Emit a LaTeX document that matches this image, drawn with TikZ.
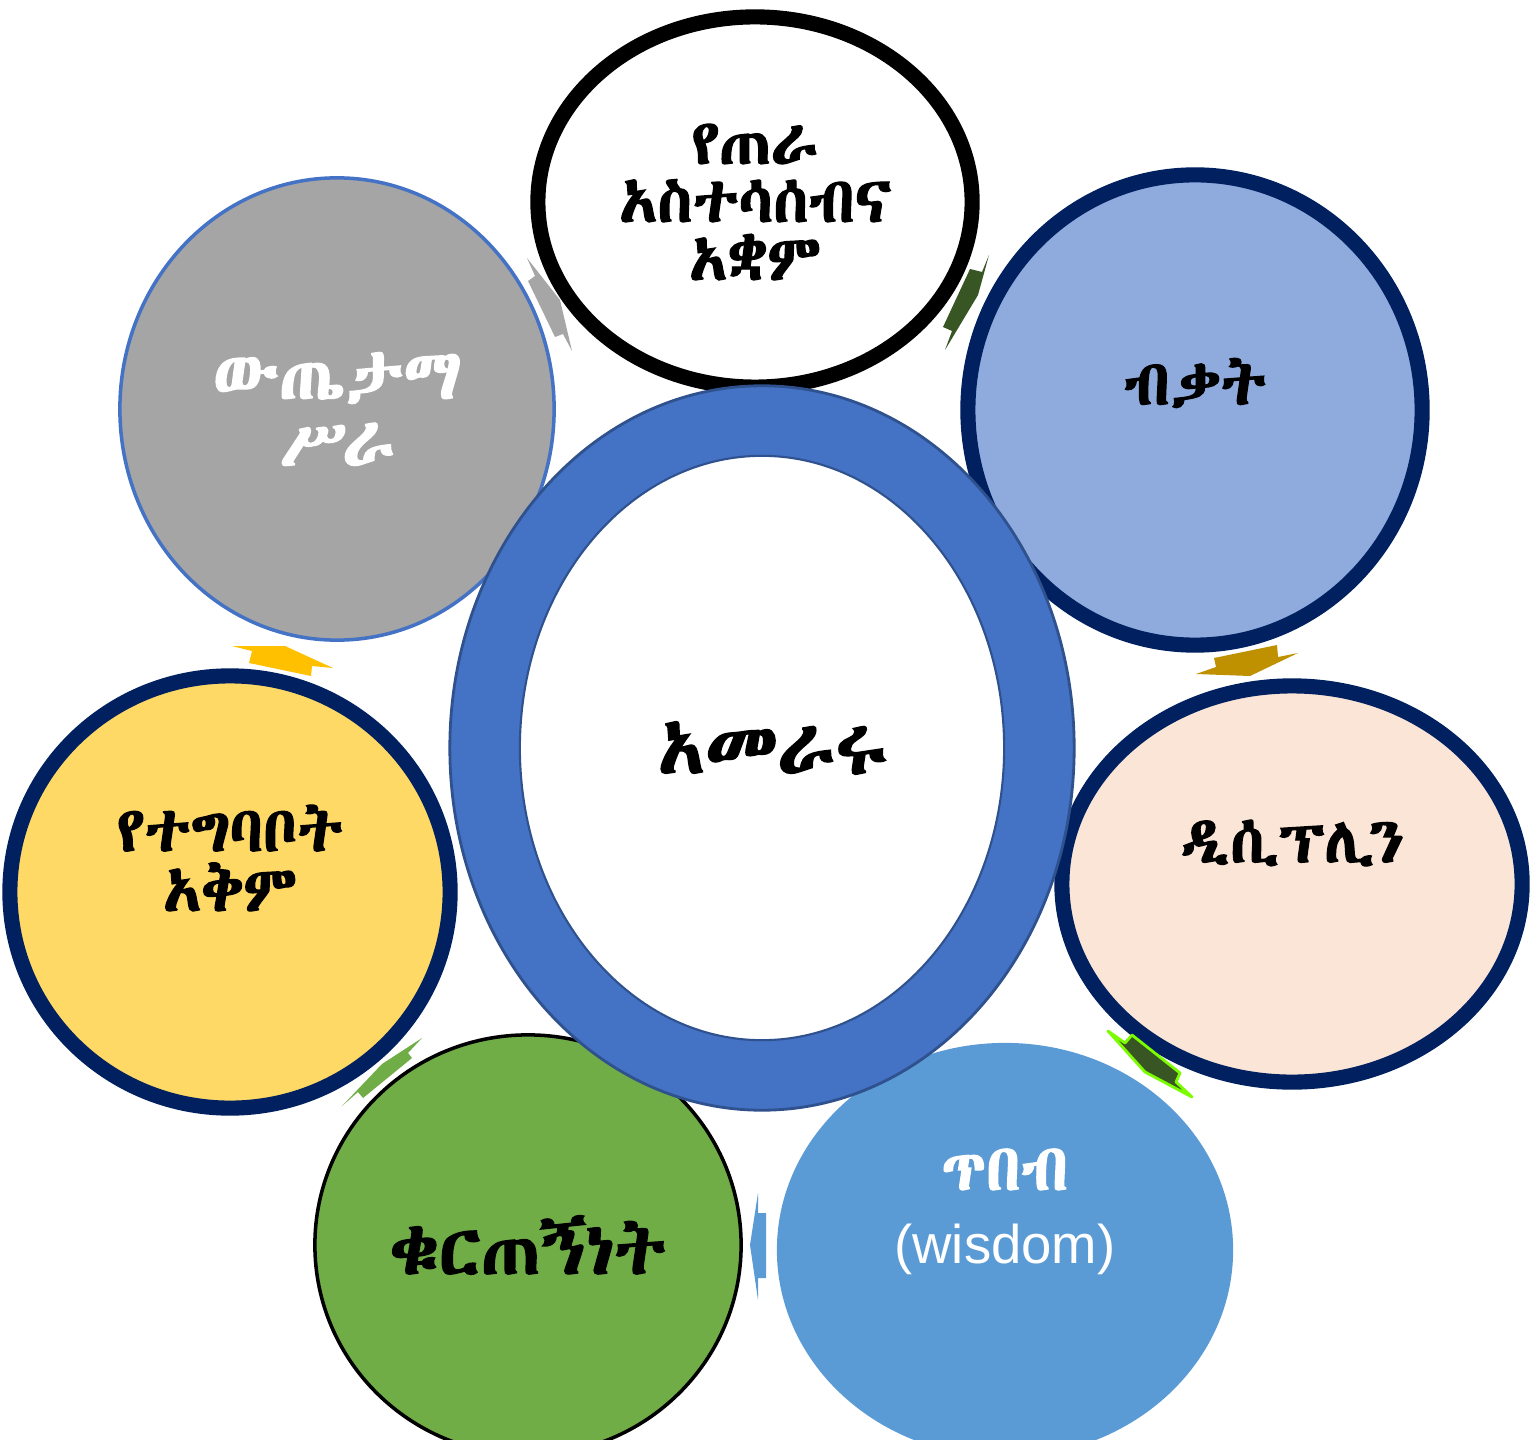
\documentclass[tikz,border=0pt]{standalone}
\usepackage{fontspec}
\usepackage{tikz}
\usepackage{xcolor}
\usetikzlibrary{shapes.geometric, calc, positioning}

\IfFontExistsTF{Abyssinica SIL}{\newfontfamily\ethfont[Script=Ethiopic,FakeBold=2]{Abyssinica SIL}}{%
  \IfFontExistsTF{Noto Sans Ethiopic}{\newfontfamily\ethfont[Script=Ethiopic]{Noto Sans Ethiopic}}{%
    \newfontfamily\ethfont[Script=Ethiopic]{FreeSerif}}}
\newfontfamily\latinfont{Liberation Sans}

\definecolor{navy}{HTML}{002060}
\definecolor{ringblue}{HTML}{4472C4}
\definecolor{ringedge}{HTML}{2F528F}
\definecolor{paleblue}{HTML}{8FAADC}
\definecolor{peach}{HTML}{FBE5D6}
\definecolor{skyblue}{HTML}{5B9BD5}
\definecolor{leaf}{HTML}{70AD47}
\definecolor{butter}{HTML}{FFD966}
\definecolor{stone}{HTML}{A5A5A5}
\definecolor{darkleaf}{HTML}{375623}
\definecolor{ochre}{HTML}{BF9000}
\definecolor{amber}{HTML}{FFC000}
\definecolor{lime}{HTML}{7CFC00}
\definecolor{silver}{HTML}{A6A6A6}

\begin{document}
\begin{tikzpicture}[
    x=0.01cm, y=-0.01cm,
    bubble/.style={ellipse, inner sep=0pt},
    thickrim/.style={draw=navy, line width=4.3pt},
    txt/.style={align=center, font=\ethfont\fontsize{18}{16.5}\selectfont},
    bigtxt/.style={align=center, font=\ethfont\fontsize{20.5}{19}\selectfont},
    arrowshape/.style={fill=#1, draw=none}
]
\useasboundingbox (0,0) rectangle (1537,1440);
\clip (0,0) rectangle (1537,1440);

% Outer ring of circles
\node[bubble, fill=white, draw=black, line width=4.3pt, minimum width=4.34cm, minimum height=3.70cm] (view) at (755,202) {};
\node[bubble, fill=paleblue, thickrim, minimum width=4.54cm, minimum height=4.70cm] (skill) at (1195,410) {};
\node[bubble, fill=peach, thickrim, minimum width=4.60cm, minimum height=3.96cm] (disc) at (1292,884) {};
\node[bubble, fill=skyblue, minimum width=4.56cm, minimum height=4.14cm] (wisdom) at (1005,1250) {};
\node[bubble, fill=leaf, draw=black, line width=1pt, minimum width=4.26cm, minimum height=4.20cm] (commit) at (528,1245) {};
\node[bubble, fill=butter, thickrim, minimum width=4.40cm, minimum height=4.32cm] (comm) at (230,892) {};
\node[bubble, fill=stone, draw=ringblue, line width=1pt, minimum width=4.34cm, minimum height=4.62cm] (result) at (337,409) {};

% Arrows between the circles
\fill[arrowshape=silver] (527,258) -- (535,276) -- (528,281) -- (555,337) -- (563,334) -- (572,351) -- (560,300) -- cycle;
\fill[arrowshape=darkleaf] (989,255) -- (982,272) -- (970,269) -- (943,327) -- (952,331) -- (945,350) -- (978,295) -- cycle;
\fill[arrowshape=ochre] (1277,645) -- (1278,657) -- (1298,653) -- (1250,676) -- (1196,674) -- (1216,667) -- (1214,658) -- cycle;
\filldraw[fill=darkleaf, draw=lime, line width=0.8pt, line join=round] (1108,1031) -- (1125,1043) -- (1132,1035) -- (1180,1073) -- (1176,1082) -- (1192,1097) -- (1145,1072) -- cycle;
\fill[arrowshape=skyblue] (758,1193) -- (758,1213) -- (766,1213) -- (766,1278) -- (758,1278) -- (758,1300) -- (750,1245) -- cycle;
\fill[arrowshape=leaf] (422,1038) -- (408,1053) -- (412,1058) -- (363,1098) -- (358,1092) -- (342,1106) -- (382,1064) -- cycle;
\fill[arrowshape=amber] (232,646) -- (285,646) -- (333,668) -- (312,666) -- (311,676) -- (249,663) -- (252,651) -- cycle;

% Centre ring
\node[bubble, fill=ringblue, draw=ringedge, line width=0.8pt, minimum width=6.24cm, minimum height=7.24cm] (lead) at (762,748) {};
\node[bubble, fill=white, draw=ringedge, line width=0.6pt, minimum width=4.84cm, minimum height=5.84cm] (leadin) at (lead.center) {};

% Labels
\node[font=\ethfont\fontsize{22}{24}\selectfont] (lead-t) at ($(lead.center)+(11,0)$) {አመራሩ};
\node[txt] (view-t) at (view.center) {የጠራ\\አስተሳሰብና\\አቋም};
\node[txt] (skill-t) at ($(skill.center)+(0,-27)$) {ብቃት};
\node[txt] (disc-t) at ($(disc.center)+(0,-41)$) {ዲሲፕሊን};
\node[txt, text=white, font=\ethfont\fontsize{18.5}{18}\selectfont] (wisdom-t) at ($(wisdom.center)+(0,-38)$) {ጥበብ\\[3pt]{\latinfont\fontsize{15.5}{16}\selectfont (wisdom)}};
\node[bigtxt] (commit-t) at (commit.center) {ቁርጠኝነት};
\node[txt, font=\ethfont\fontsize{18}{17}\selectfont] (comm-t) at ($(comm.center)+(0,-34)$) {የተግባቦት\\አቅም};
\node[bigtxt, text=white, font=\ethfont\fontsize{20}{19}\selectfont] (result-t) at (result.center) {ውጤታማ\\ሥራ};

\end{tikzpicture}
\end{document}
